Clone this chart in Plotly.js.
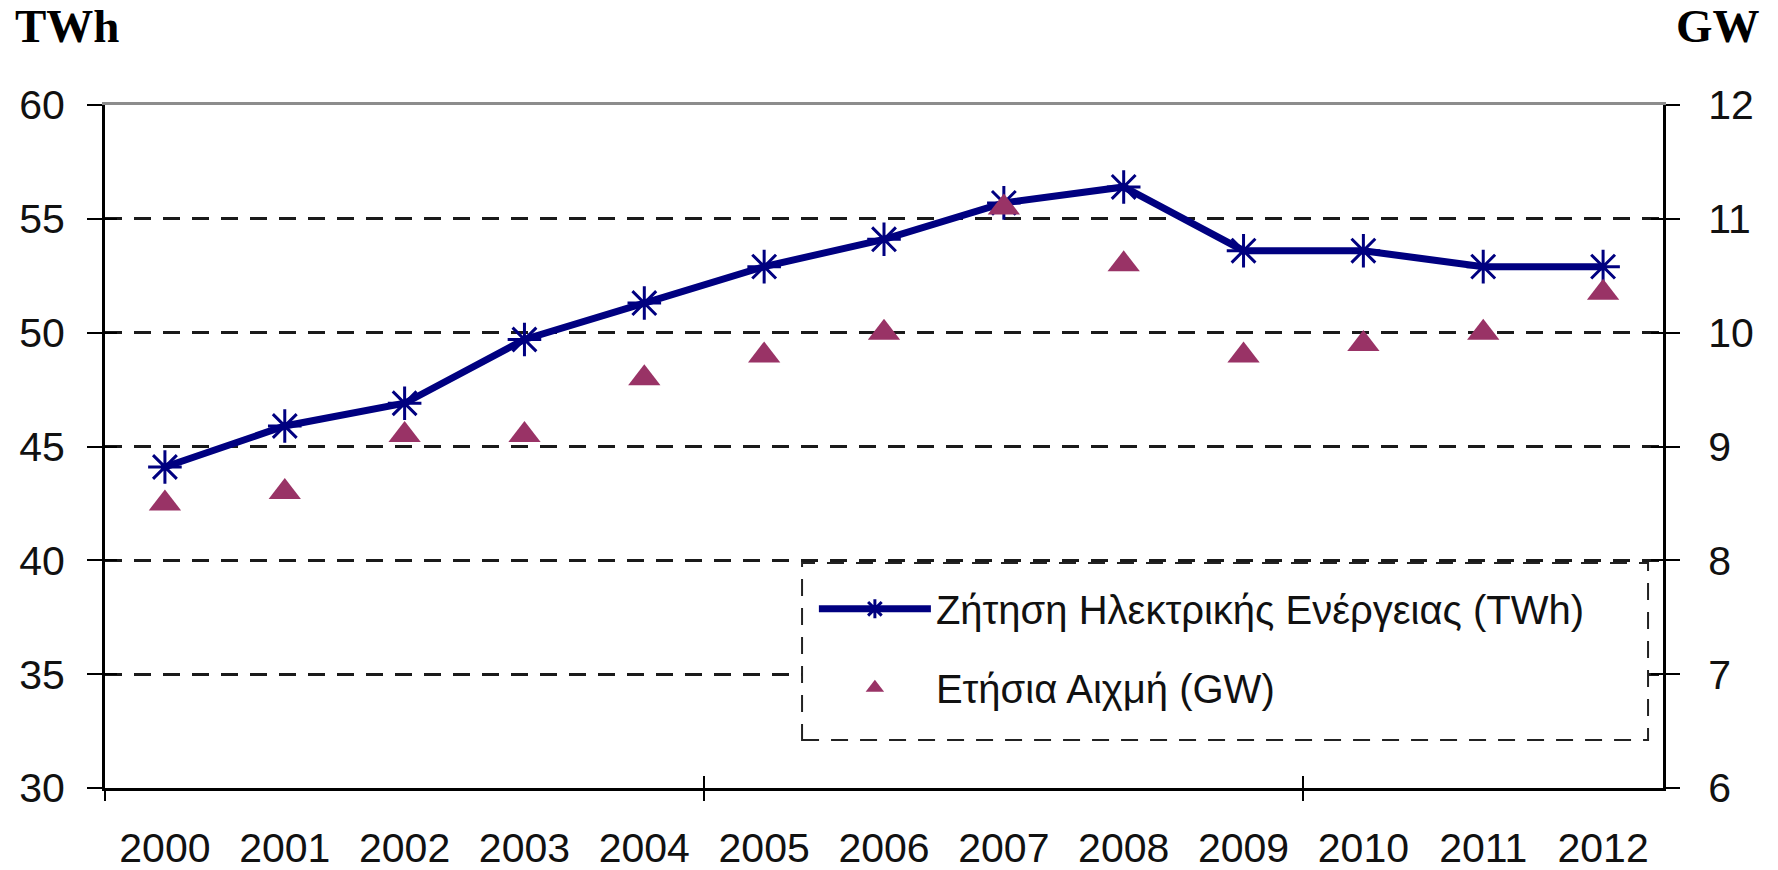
<!DOCTYPE html>
<html>
<head>
<meta charset="utf-8">
<script src="https://cdn.plot.ly/plotly-3.0.1.min.js"></script>
<style>
  html, body { margin: 0; padding: 0; background: #ffffff; }
  #chart { width: 1778px; height: 870px; }
</style>
</head>
<body>
<div id="chart"></div>
<script>
// ---- data ----
const years = [2000, 2001, 2002, 2003, 2004, 2005, 2006, 2007, 2008, 2009, 2010, 2011, 2012];
const yearLabels = ['2000','2001','2002','2003','2004','2005','2006','2007','2008','2009','2010','2011','2012'];
const demandTWh = [44.1, 45.9, 46.9, 49.7, 51.3, 52.9, 54.1, 55.7, 56.4, 53.6, 53.6, 52.9, 52.9];
const peakGW = [8.5, 8.6, 9.1, 9.1, 9.6, 9.8, 10.0, 11.1, 10.6, 9.8, 9.9, 10.0, 10.35];
const demandName = 'Ζήτηση Ηλεκτρικής Ενέργειας (TWh)';
const peakName = 'Ετήσια Αιχμή (GW)';
const leftTicks = [30, 35, 40, 45, 50, 55, 60];
const rightTicks = [6, 7, 8, 9, 10, 11, 12];
const xBoundaryTicks = [1999.5, 2004.5, 2009.5];

const FONT = '"Liberation Sans", Arial, sans-serif';
const SERIF = '"Liberation Serif", "Times New Roman", serif';
const xRange = [1999.5, 2012.5];

const traces = [
  {
    x: years, y: demandTWh, name: demandName, type: 'scatter', mode: 'lines+markers',
    xaxis: 'x', yaxis: 'y', legendgroup: 'a',
    line: { color: '#000080', width: 7 },
    marker: { symbol: 'asterisk-open', size: 28, color: '#000080', line: { color: '#000080', width: 3 } }
  },
  {
    x: years, y: peakGW, name: peakName, type: 'scatter', mode: 'markers',
    xaxis: 'x', yaxis: 'y2', legendgroup: 'b',
    marker: { symbol: 'triangle-up', size: 28, color: '#993366' }
  },
  // empty helper traces so that the decoration axes (crossing ticks, top border) are drawn
  { x: [], y: [], type: 'scatter', mode: 'markers', xaxis: 'x2', yaxis: 'y3', showlegend: false, hoverinfo: 'skip' },
  { x: [], y: [], type: 'scatter', mode: 'markers', xaxis: 'x3', yaxis: 'y4', showlegend: false, hoverinfo: 'skip' },
  { x: [], y: [], type: 'scatter', mode: 'markers', xaxis: 'x4', yaxis: 'y', showlegend: false, hoverinfo: 'skip' }
];

const layout = {
  width: 1778, height: 870,
  margin: { l: 105, r: 115, t: 105, b: 82 },
  paper_bgcolor: '#ffffff', plot_bgcolor: '#ffffff',
  font: { family: FONT, color: '#111111', size: 40 },
  showlegend: true,
  legend: {
    x: 0.455, y: 0.31, xanchor: 'left', yanchor: 'top',
    bgcolor: 'rgba(0,0,0,0)', borderwidth: 0,
    font: { family: FONT, size: 40, color: '#111111' },
    tracegroupgap: 24, itemwidth: 112, itemsizing: 'trace'
  },
  xaxis: {
    range: xRange, tickmode: 'array', tickvals: years, ticktext: yearLabels,
    ticks: '', showgrid: false, zeroline: false,
    showline: true, linecolor: '#000000', linewidth: 3,
    tickfont: { family: FONT, size: 41, color: '#111111' },
    ticklabelstandoff: 22, anchor: 'y'
  },
  xaxis2: {
    overlaying: 'x', anchor: 'y3', range: xRange, tickmode: 'array', tickvals: xBoundaryTicks,
    ticks: 'outside', ticklen: 12, tickwidth: 2, tickcolor: '#000000',
    showticklabels: false, showgrid: false, zeroline: false, showline: false
  },
  xaxis3: {
    overlaying: 'x', anchor: 'y4', range: xRange, tickmode: 'array', tickvals: xBoundaryTicks,
    ticks: 'inside', ticklen: 12, tickwidth: 2, tickcolor: '#000000',
    showticklabels: false, showgrid: false, zeroline: false, showline: false
  },
  xaxis4: {
    overlaying: 'x', anchor: 'y', side: 'top', range: xRange,
    ticks: '', showticklabels: false, showgrid: false, zeroline: false,
    showline: true, linecolor: '#8c8c8c', linewidth: 3
  },
  yaxis: {
    range: [30, 60], tickmode: 'array', tickvals: leftTicks,
    ticks: 'outside', ticklen: 15, tickwidth: 2, tickcolor: '#000000',
    showgrid: true, gridcolor: '#1a1a1a', gridwidth: 3, griddash: '17px,12px',
    zeroline: false, showline: true, linecolor: '#000000', linewidth: 3,
    tickfont: { family: FONT, size: 41, color: '#111111' },
    ticklabelstandoff: 14, anchor: 'x'
  },
  yaxis3: {
    overlaying: 'y', side: 'left', anchor: 'x2', range: [30, 60], tickmode: 'array', tickvals: leftTicks,
    ticks: 'inside', ticklen: 12, tickwidth: 2, tickcolor: '#000000',
    showticklabels: false, showgrid: false, zeroline: false, showline: false
  },
  yaxis2: {
    overlaying: 'y', side: 'right', anchor: 'x', range: [6, 12], tickmode: 'array', tickvals: rightTicks,
    ticks: 'outside', ticklen: 14, tickwidth: 2, tickcolor: '#000000',
    showgrid: false, zeroline: false, showline: true, linecolor: '#000000', linewidth: 3,
    tickfont: { family: FONT, size: 41, color: '#111111' },
    ticklabelstandoff: 20
  },
  yaxis4: {
    overlaying: 'y', side: 'right', anchor: 'x3', range: [6, 12], tickmode: 'array', tickvals: rightTicks,
    ticks: 'inside', ticklen: 12, tickwidth: 2, tickcolor: '#000000',
    showticklabels: false, showgrid: false, zeroline: false, showline: false
  },
  shapes: [
    {
      type: 'rect', xref: 'paper', yref: 'paper', layer: 'above',
      x0: 0.4474, x1: 0.9904, y0: 0.0703, y1: 0.3294,
      fillcolor: '#ffffff', line: { color: '#222222', width: 2, dash: '17px,12px' }
    }
  ],
  annotations: [
    {
      text: '<b>TWh</b>', xref: 'paper', yref: 'paper', x: -0.059, y: 1.115,
      xanchor: 'left', yanchor: 'middle', showarrow: false,
      font: { family: SERIF, size: 47, color: '#000000' }
    },
    {
      text: '<b>GW</b>', xref: 'paper', yref: 'paper', x: 1.0635, y: 1.115,
      xanchor: 'right', yanchor: 'middle', showarrow: false,
      font: { family: SERIF, size: 47, color: '#000000' }
    }
  ]
};

Plotly.newPlot('chart', traces, layout, { displayModeBar: false, staticPlot: true });
</script>
</body>
</html>
